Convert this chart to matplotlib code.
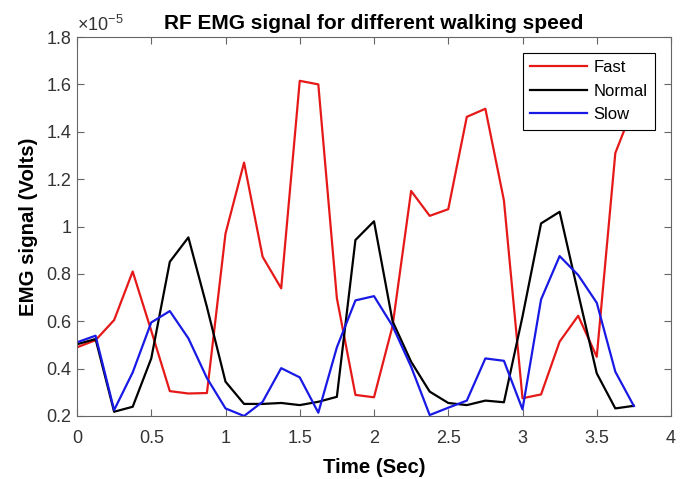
import matplotlib
matplotlib.use("Agg")
import matplotlib.pyplot as plt
from matplotlib.ticker import FuncFormatter

plt.rcParams['font.family'] = ['Liberation Sans', 'DejaVu Sans']
plt.rcParams['mathtext.fontset'] = 'custom'
plt.rcParams['mathtext.rm'] = 'Liberation Sans'
plt.rcParams['mathtext.it'] = 'Liberation Sans'

# time samples (sec)
time = [0.0, 0.125, 0.25, 0.375, 0.5, 0.625, 0.75, 0.875,
        1.0, 1.125, 1.25, 1.375, 1.5, 1.625, 1.75, 1.875,
        2.0, 2.125, 2.25, 2.375, 2.5, 2.625, 2.75, 2.875,
        3.0, 3.125, 3.25, 3.375, 3.5, 3.625, 3.75]

# EMG signal, units of 1e-5 V
fast = [0.49, 0.52, 0.605, 0.81, 0.56, 0.305, 0.295, 0.297,
        0.97, 1.27, 0.872, 0.739, 1.615, 1.60, 0.697, 0.289,
        0.279, 0.58, 1.15, 1.045, 1.073, 1.463, 1.497, 1.11,
        0.275, 0.291, 0.514, 0.623, 0.45, 1.31, 1.51]
normal = [0.503, 0.525, 0.218, 0.239, 0.443, 0.851, 0.954, 0.66,
          0.345, 0.251, 0.251, 0.255, 0.246, 0.26, 0.281, 0.943,
          1.022, 0.60, 0.429, 0.303, 0.255, 0.246, 0.265, 0.258,
          0.62, 1.013, 1.062, 0.718, 0.38, 0.232, 0.243]
slow = [0.511, 0.539, 0.225, 0.384, 0.595, 0.643, 0.528, 0.36,
        0.232, 0.20, 0.26, 0.402, 0.363, 0.214, 0.49, 0.688,
        0.706, 0.58, 0.408, 0.204, 0.235, 0.265, 0.443, 0.433,
        0.228, 0.692, 0.875, 0.795, 0.678, 0.387, 0.242]

xticks = [0, 0.5, 1, 1.5, 2, 2.5, 3, 3.5, 4]
yticks = [0.2, 0.4, 0.6, 0.8, 1.0, 1.2, 1.4, 1.6, 1.8]

fig = plt.figure(figsize=(6.89, 4.79), dpi=100)
ax = fig.add_axes([77/689, 1 - 416/479, 594/689, 379/479])

ax.plot(time, fast, color='#e61919', lw=1.6, label='Fast')
ax.plot(time, normal, color='black', lw=1.6, label='Normal')
ax.plot(time, slow, color='#1919e6', lw=1.6, label='Slow')

ax.set_xlim(0, 4)
ax.set_ylim(0.2, 1.8)
ax.set_xticks(xticks)
ax.set_yticks(yticks)
fmt = FuncFormatter(lambda v, p: '%g' % v)
ax.xaxis.set_major_formatter(fmt)
ax.yaxis.set_major_formatter(fmt)
ax.tick_params(direction='in', top=True, right=True, length=5, width=0.8,
               colors='#666666', labelsize=13, labelcolor='#333333')
ax.tick_params(axis='x', pad=10)
ax.tick_params(axis='y', pad=4)
for s in ax.spines.values():
    s.set_color('#666666')
    s.set_linewidth(0.8)

ax.text(0, 1.005, r'$\times10^{-5}$', transform=ax.transAxes,
        ha='left', va='bottom', fontsize=13, color='#333333')

ax.set_title('RF EMG signal for different walking speed', fontsize=15,
             fontweight='bold', pad=6)
ax.set_xlabel('Time (Sec)', fontsize=14.7, fontweight='bold', labelpad=8)
ax.set_ylabel('EMG signal (Volts)', fontsize=14.7, fontweight='bold', labelpad=6)

leg = ax.legend(loc='upper right', fontsize=12, fancybox=False,
                framealpha=1, edgecolor='black', borderaxespad=0.95,
                handlelength=3.4, labelspacing=0.5, borderpad=0.45,
                handletextpad=0.4)
leg.get_frame().set_linewidth(0.8)

fig.savefig('out.png', dpi=100)
